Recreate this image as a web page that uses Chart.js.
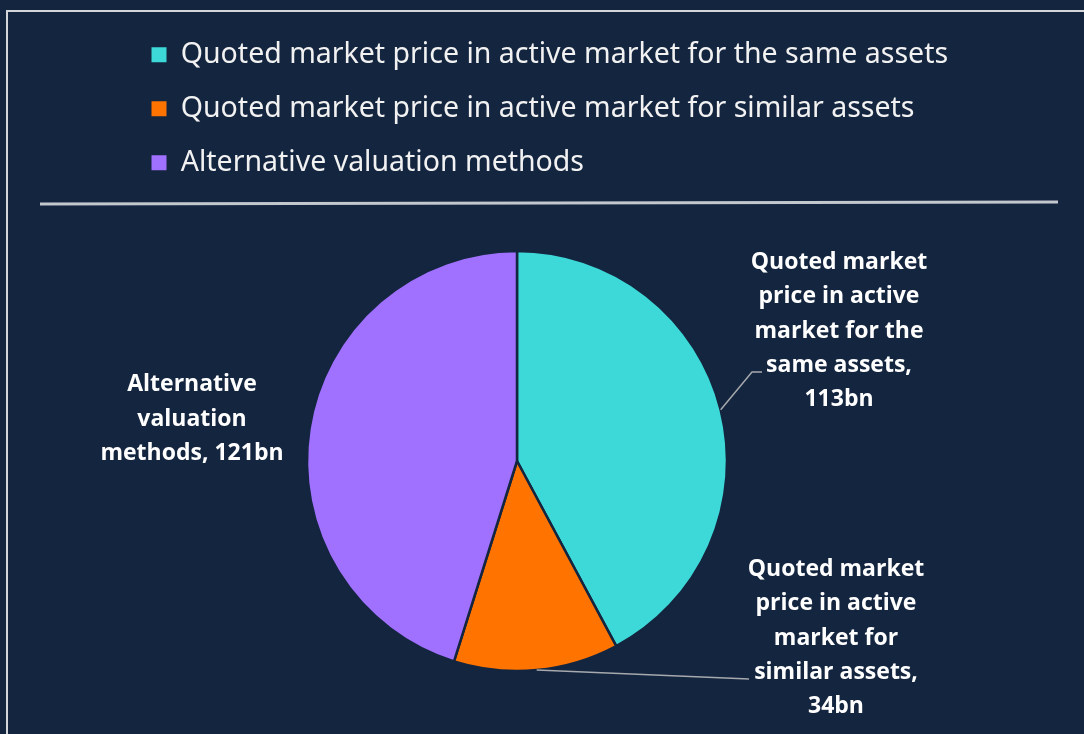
<!DOCTYPE html>
<html>
<head>
<meta charset="utf-8">
<script src="https://cdn.jsdelivr.net/npm/chart.js@4/dist/chart.umd.min.js"></script>
<style>
  html, body { margin: 0; padding: 0; background: #14253f; }
  #wrap { width: 1084px; height: 734px; position: relative; }
</style>
</head>
<body>
<div id="wrap"><canvas id="grafico"></canvas></div>
<script>
// Dados do gráfico
const categorias = [
    'Quoted market price in active market for the same assets',
    'Quoted market price in active market for similar assets',
    'Alternative valuation methods'
];
const valores = [113, 34, 121];
const cores = ['#3dd8d8', '#ff7300', '#a071ff'];
// rótulos com quebras de linha ({v} = valor)
const rotulos = [
    'Quoted market\nprice in active\nmarket for the\nsame assets,\n{v}bn',
    'Quoted market\nprice in active\nmarket for\nsimilar assets,\n{v}bn',
    'Alternative\nvaluation\nmethods, {v}bn'
];

const fundo = '#14253f';

// Posição dos rótulos em relação ao centro da pizza (px) e ponta da linha guia
const posRotulos = [
    { dx: 322, dy: -130, guia: { dx: -77, dy: 41, cotovelo: 10 } },
    { dx: 319, dy: 177, guia: { dx: -87, dy: 41, cotovelo: 0 } },
    { dx: -325, dy: -42, guia: null }
];

// Moldura e linha separadora
const pluginMoldura = {
    id: 'moldura',
    beforeDraw(chart) {
        const ctx = chart.ctx;
        ctx.save();
        ctx.strokeStyle = '#d4d6da';
        ctx.lineWidth = 2;
        ctx.beginPath();
        ctx.moveTo(7, 734);
        ctx.lineTo(7, 11);
        ctx.lineTo(1084, 11);
        ctx.stroke();
        ctx.strokeStyle = '#c3c7ce';
        ctx.lineWidth = 3;
        ctx.beginPath();
        ctx.moveTo(40, 204);
        ctx.lineTo(1058, 202);
        ctx.stroke();
        ctx.restore();
    }
};

// Rótulos de dados com linhas guia
const pluginRotulos = {
    id: 'rotulos',
    afterDatasetsDraw(chart) {
        const ctx = chart.ctx;
        const arcos = chart.getDatasetMeta(0).data;
        ctx.save();
        ctx.font = 'bold 23px "Open Sans"';
        ctx.fillStyle = '#ffffff';
        ctx.textAlign = 'center';
        ctx.textBaseline = 'middle';
        arcos.forEach((arco, i) => {
            const { x, y, startAngle, endAngle, outerRadius } = arco.getProps(['x', 'y', 'startAngle', 'endAngle', 'outerRadius'], true);
            const meio = (startAngle + endAngle) / 2;
            const pos = posRotulos[i];
            const cx = x + pos.dx;
            const cy = y + pos.dy;
            if (pos.guia) {
                const ax = x + Math.cos(meio) * outerRadius;
                const ay = y + Math.sin(meio) * outerRadius;
                const ex = cx + pos.guia.dx;
                const ey = cy + pos.guia.dy;
                ctx.strokeStyle = '#a6a9ad';
                ctx.lineWidth = 1.5;
                ctx.beginPath();
                ctx.moveTo(ax, ay);
                ctx.lineTo(ex - pos.guia.cotovelo, ey);
                ctx.lineTo(ex, ey);
                ctx.stroke();
            }
            const linhas = rotulos[i].replace('{v}', valores[i]).split('\n');
            const alturaLinha = 34.3;
            const y0 = cy - (linhas.length - 1) * alturaLinha / 2;
            linhas.forEach((linha, j) => {
                ctx.fillText(linha, cx, y0 + j * alturaLinha);
            });
        });
        ctx.restore();
    }
};

// Espaço extra abaixo da legenda e legenda mais larga (sem cortar o texto)
const pluginEspacoLegenda = {
    id: 'espacoLegenda',
    beforeInit(chart) {
        const fitOriginal = chart.legend.fit;
        chart.legend.fit = function () {
            fitOriginal.bind(chart.legend)();
            this.height += 1;
        };
    },
    afterLayout(chart) {
        chart.legend.right = chart.width;
        chart.legend.width = chart.legend.right - chart.legend.left;
    }
};

const contexto = document.getElementById('grafico').getContext('2d');
new Chart(contexto, {
    type: 'pie',
    data: {
        labels: categorias,
        datasets: [{
            data: valores,
            backgroundColor: cores,
            borderColor: fundo,
            borderWidth: 2.5,
            radius: 210
        }]
    },
    options: {
        responsive: true,
        maintainAspectRatio: false,
        animation: false,
        layout: {
            padding: { top: 15, left: 126, right: 176, bottom: 0 }
        },
        plugins: {
            tooltip: { enabled: false },
            legend: {
                position: 'top',
                align: 'start',
                labels: {
                    color: '#f2f2f2',
                    font: { family: 'Noto Sans', size: 28.5 },
                    boxWidth: 15,
                    boxHeight: 15,
                    padding: 25.5,
                    generateLabels: function (chart) {
                        const itens = Chart.controllers.pie.overrides.plugins.legend.labels.generateLabels(chart);
                        itens.forEach(item => { item.lineWidth = 0; });
                        return itens;
                    }
                }
            }
        }
    },
    plugins: [pluginMoldura, pluginRotulos, pluginEspacoLegenda]
});
</script>
</body>
</html>
